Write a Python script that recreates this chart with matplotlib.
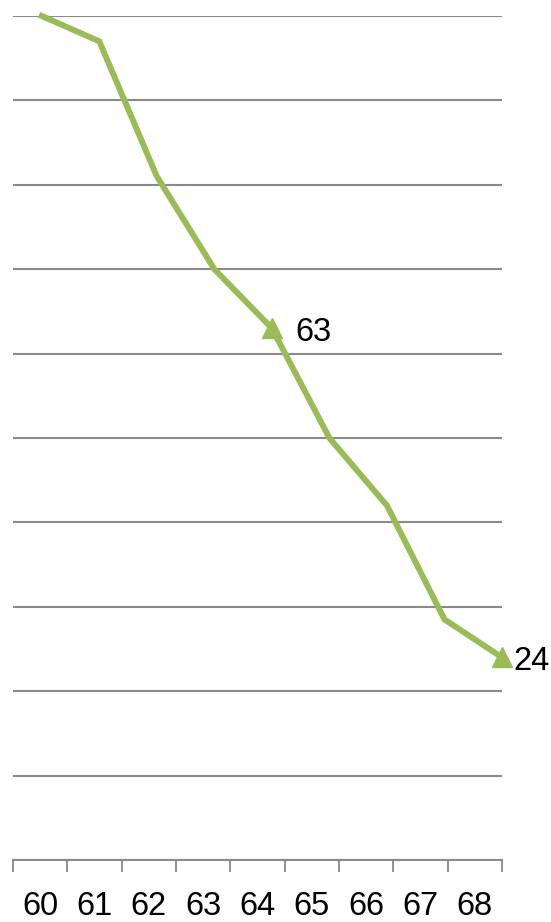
import matplotlib
matplotlib.use("Agg")
import matplotlib.pyplot as plt
from matplotlib.ticker import FixedLocator

categories = ["60", "61", "62", "63", "64", "65", "66", "67", "68"]
x_values = [60, 61, 62, 63, 64, 65, 66, 67, 68]
y_values = [100, 97, 81, 70, 63, 50, 42, 28.5, 24]
labeled_points = [4, 8]
gridlines = [0, 10, 20, 30, 40, 50, 60, 70, 80, 90, 100]

plt.rcParams['font.family'] = ['Liberation Sans', 'DejaVu Sans']

fig = plt.figure(figsize=(5.51, 9.22), dpi=100)
ax = fig.add_axes([13/551, 1-860/922, (502-13)/551, (860-16)/922])

GRID = '#8a8a8a'
GREEN = '#9BBB59'

# category axis
ax.set_xlim(-0.5, len(categories) - 0.5)
ax.set_ylim(0, 100)
ax.xaxis.set_major_locator(FixedLocator([i - 0.5 for i in range(len(categories) + 1)]))
ax.xaxis.set_minor_locator(FixedLocator(list(range(len(categories)))))
ax.set_xticklabels([])
ax.set_xticklabels(categories, minor=True)
ax.tick_params(axis='x', which='major', direction='out', length=8.5, width=1.3, color=GRID)
ax.tick_params(axis='x', which='minor', length=0, pad=22, labelsize=23.5, labelcolor='black')
ax.set_yticks(gridlines)
ax.set_yticklabels([])
ax.tick_params(axis='y', length=0)
ax.grid(axis='y', color=GRID, linewidth=1.5)
ax.set_axisbelow(True)
for s in ['left', 'right', 'top']:
    ax.spines[s].set_visible(False)
ax.spines['bottom'].set_color(GRID)
ax.spines['bottom'].set_linewidth(1.5)

# line series on secondary x scale
ax2 = ax.twiny()
ax2.set_xlim(59.5, 68)
ax2.set_ylim(0, 100)
ax2.axis('off')
ax2.plot(x_values, y_values, color=GREEN, linewidth=4.3, solid_joinstyle='miter', clip_on=False)
for i, off in zip(labeled_points, [(17, -3), (8, -3)]):
    ax2.plot([x_values[i]], [y_values[i]], marker='^', markersize=14, color=GREEN, clip_on=False)
    ax2.annotate(f"{y_values[i]:g}", (x_values[i], y_values[i]), xytext=off,
                 textcoords='offset points', ha='left', va='center', fontsize=23.5,
                 color='black', annotation_clip=False)

fig.savefig("out.png", dpi=100)
